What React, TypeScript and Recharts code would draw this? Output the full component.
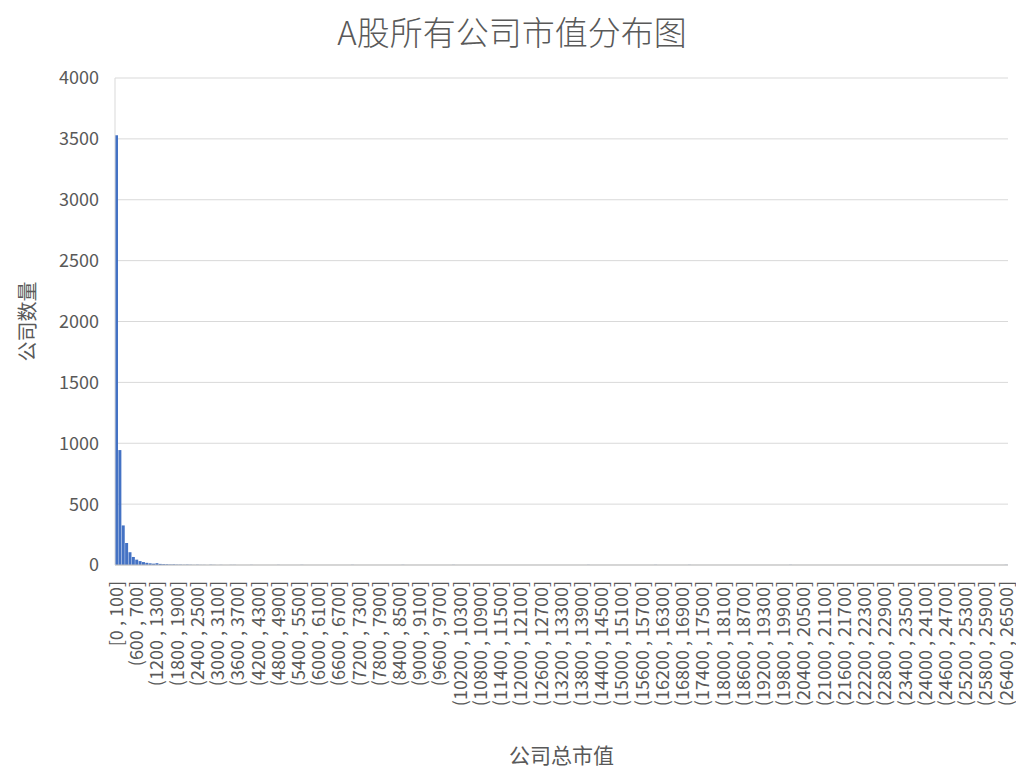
import React from 'react';
import { BarChart, Bar, XAxis, YAxis, CartesianGrid, Label } from 'recharts';

// company count per market-cap bin (bins of 100, 0 .. 26500)
const binSize = 100;
const counts = [
  3530, 944, 325, 180, 105, 66, 44, 32, 24, 18, 14, 11, 15, 9, 7, 6, 4, 5, 3, 3,
  2, 3, 2, 1, 2, 1, 1, 0, 2, 1, 0, 1, 0, 0, 1, 1, 0, 0, 0, 0,
  1, 0, 0, 0, 0, 0, 0, 0, 1, 0, 0, 0, 0, 0, 0, 1, 0, 0, 0, 0,
  0, 0, 0, 0, 0, 0, 0, 0, 0, 0, 1, 0, 0, 0, 0, 0, 0, 0, 0, 0,
  0, 0, 0, 0, 0, 1, 0, 0, 0, 0, 0, 0, 0, 0, 0, 0, 0, 0, 0, 0,
  1, 0, 0, 0, 0, 0, 0, 0, 0, 0, 0, 0, 0, 0, 0, 0, 0, 0, 0, 0,
  0, 0, 0, 0, 0, 0, 0, 0, 0, 0, 0, 0, 0, 0, 0, 0, 0, 0, 0, 0,
  1, 0, 0, 0, 0, 0, 0, 0, 0, 0, 0, 0, 0, 0, 0, 0, 0, 0, 0, 0,
  1, 0, 0, 0, 0, 0, 0, 0, 0, 0, 1, 0, 0, 0, 0, 0, 0, 0, 0, 0,
  0, 0, 0, 0, 0, 0, 0, 0, 0, 0, 0, 0, 0, 0, 0, 0, 0, 0, 0, 0,
  1, 0, 0, 0, 0, 0, 0, 0, 0, 0, 0, 0, 0, 0, 0, 0, 0, 0, 0, 0,
  0, 0, 0, 0, 0, 0, 0, 0, 0, 0, 0, 0, 0, 0, 0, 0, 0, 0, 0, 0,
  0, 0, 0, 0, 0, 0, 0, 0, 0, 0, 0, 0, 0, 0, 0, 0, 0, 0, 0, 0,
  0, 0, 0, 0, 1,
];
const yTicks = [0, 500, 1000, 1500, 2000, 2500, 3000, 3500, 4000];

const data = counts.map((count, i) => ({
  range: i === 0 ? `[0 , ${binSize}]` : `(${i * binSize} , ${(i + 1) * binSize}]`,
  count,
}));

const FONT = '"Noto Sans CJK SC", "Noto Sans", sans-serif';
const GREY = '#595959';

const RotatedTick = ({ x, y, payload }: any) => {
  const ty = y + 8;
  return (
    <text
      x={x}
      y={ty}
      dy="0.35em"
      transform={`rotate(-90, ${x}, ${ty})`}
      textAnchor="end"
      fontSize={18}
      fill={GREY}
      fontFamily={FONT}
    >
      {payload.value}
    </text>
  );
};

export default function App() {
  return (
    <div style={{ position: 'relative', width: 1024, height: 781, margin: -8, background: '#fff' }}>
      <div
        style={{
          position: 'absolute',
          top: 8,
          left: 0,
          width: 1024,
          textAlign: 'center',
          fontFamily: FONT,
          fontSize: 33,
          fontWeight: 300,
          lineHeight: '46px',
          color: GREY,
        }}
      >
        A股所有公司市值分布图
      </div>
      <BarChart
        width={1024}
        height={781}
        data={data}
        margin={{ top: 78, right: 16, bottom: 0, left: 55 }}
        barCategoryGap={0}
        style={{ fontFamily: FONT }}
      >
        <CartesianGrid vertical={false} stroke="#d9d9d9" />
        <XAxis
          dataKey="range"
          interval={5}
          height={216}
          tickLine={false}
          axisLine={{ stroke: '#bfbfbf' }}
          tick={<RotatedTick />}
        >
          <Label
            content={({ viewBox }: any) => (
              <text
                x={viewBox.x + viewBox.width / 2}
                y={763}
                textAnchor="middle"
                fontSize={21}
                fill={GREY}
                fontFamily={FONT}
              >
                公司总市值
              </text>
            )}
          />
        </XAxis>
        <YAxis
          width={60}
          domain={[0, 4000]}
          ticks={yTicks}
          tickLine={false}
          tickMargin={10}
          axisLine={{ stroke: '#d9d9d9' }}
          tick={{ fontSize: 18, fill: GREY }}
        >
          <Label
            content={({ viewBox }: any) => {
              const cy = viewBox.y + viewBox.height / 2;
              return (
                <text
                  x={28}
                  y={cy}
                  dy="0.35em"
                  transform={`rotate(-90, 28, ${cy})`}
                  textAnchor="middle"
                  fontSize={20}
                  fill={GREY}
                  fontFamily={FONT}
                >
                  公司数量
                </text>
              );
            }}
          />
        </YAxis>
        <Bar dataKey="count" fill="#4472c4" isAnimationActive={false} />
      </BarChart>
    </div>
  );
}
